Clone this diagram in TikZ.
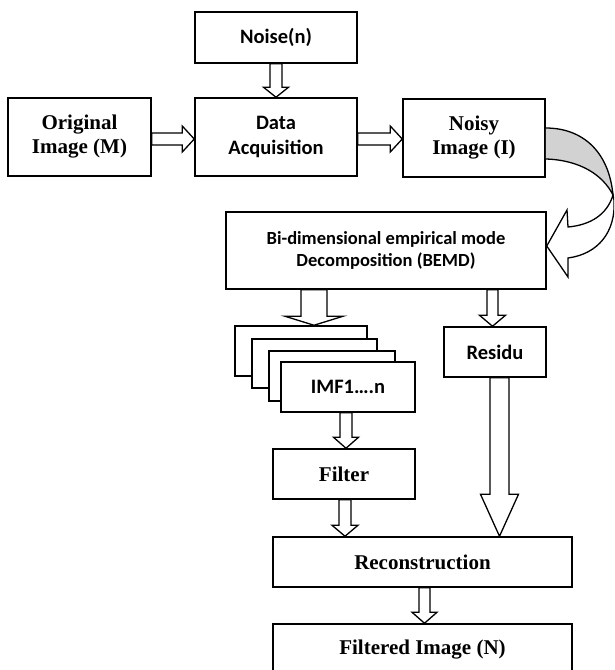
\documentclass[tikz,border=0pt]{standalone}
\usepackage{fontspec}
\setmainfont{Liberation Serif}
\newfontfamily\calfont{Carlito}
\usetikzlibrary{calc}
\newcommand\bdown[6]{% x, from, to, shaft half, head half, head length
  \draw[barrow] let \p1=(#2), \p2=(#3) in
    (#1pt-#4pt,\y1) -- (#1pt-#4pt,\y2+#6pt) -- (#1pt-#5pt,\y2+#6pt) -- (#1pt,\y2)
    -- (#1pt+#5pt,\y2+#6pt) -- (#1pt+#4pt,\y2+#6pt) -- (#1pt+#4pt,\y1) -- cycle;}
\newcommand\bright[6]{% y, from, to, shaft half, head half, head length
  \draw[barrow] let \p1=(#2), \p2=(#3) in
    (\x1,-#1pt+#4pt) -- (\x2-#6pt,-#1pt+#4pt) -- (\x2-#6pt,-#1pt+#5pt) -- (\x2,-#1pt)
    -- (\x2-#6pt,-#1pt-#5pt) -- (\x2-#6pt,-#1pt-#4pt) -- (\x1,-#1pt-#4pt) -- cycle;}
\begin{document}
\begin{tikzpicture}[x=1pt,y=-1pt,
  box/.style={draw, line width=1.5pt, fill=white, inner sep=0pt, align=center},
  serifbox/.style={box, font=\fontsize{21}{24}\selectfont\bfseries},
  calbox/.style={box, font=\calfont\fontsize{20.5}{25}\selectfont\bfseries},
  barrow/.style={draw, line width=1.3pt, fill=white, line join=miter},
  curv/.style={draw, line width=1.3pt, line join=miter}]
\useasboundingbox (0,0) rectangle (614,670);
\clip (0,0) rectangle (614,670);
% top row
\node[calbox, minimum width=162pt, minimum height=51pt] (noise) at (276,37.5) {Noise(n)};
\node[serifbox, minimum width=143pt, minimum height=78pt] (orig) at (79.5,137) {Original\\Image (M)};
\node[calbox, minimum width=162pt, minimum height=78pt] (data) at (276,137) {Data\\Acquisition};
\node[serifbox, minimum width=142pt, minimum height=78pt] (noisy) at (474,138) {Noisy\\Image (I)};
% BEMD
\node[box, font=\calfont\fontsize{18.5}{22}\selectfont\bfseries, minimum width=320pt, minimum height=77pt] (bemd) at (386,250.5) {Bi-dimensional empirical mode\\Decomposition (BEMD)};
% IMF stack
\node[box, minimum width=132pt, minimum height=50pt] (imfa) at (301,351) {};
\node[box, minimum width=125pt, minimum height=49pt] (imfb) at (314.5,363.5) {};
\node[box, minimum width=126pt, minimum height=50pt] (imfc) at (332,376) {};
\node[calbox, minimum width=134pt, minimum height=50pt] (imf) at (348,387) {IMF1….n};
\node[calbox, minimum width=102pt, minimum height=50pt] (residu) at (495,352) {Residu};
\node[serifbox, minimum width=142pt, minimum height=50pt] (filter) at (344,474) {Filter};
\node[serifbox, minimum width=299pt, minimum height=50pt] (recon) at (422.5,562) {Reconstruction};
\node[serifbox, minimum width=299pt, minimum height=52pt] (filtered) at (422.5,650) {Filtered Image (N)};
% block arrows
\bdown{276}{noise.south}{data.north}{6}{12.5}{10}
\bright{139}{orig.east}{data.west}{6}{13}{12}
\bright{139}{data.east}{noisy.west}{6}{13}{12}
\bdown{314}{bemd.south}{imfa.north}{13}{29}{9}
\bdown{492.5}{bemd.south}{residu.north}{5.5}{13}{11}
\bdown{346}{imf.south}{filter.north}{6}{12.5}{11}
\bdown{345}{filter.south}{recon.north}{6}{13}{11}
\bdown{499.5}{residu.south}{recon.north}{9.5}{19}{42}
\bdown{424.5}{recon.south}{filtered.north}{5.5}{12.5}{11}
% curved arrow from Noisy Image to BEMD
\coordinate (ctop) at (noisy.east |- 0,128);
\coordinate (cbot) at (noisy.east |- 0,159);
\coordinate (tip) at (bemd.east |- 0,246);
\filldraw[curv, fill=gray!35] (ctop) .. controls (583,128) and (609,152) .. (613,195)
  .. controls (603,175) and (580,160) .. (cbot);
\filldraw[curv, fill=white] (613,195) .. controls (607,215) and (590,225) .. (568,227)
  -- (567,210) -- (tip) -- (568,277) -- (568,258)
  .. controls (598,254) and (616,232) .. (614,200) -- cycle;
\end{tikzpicture}
\end{document}
